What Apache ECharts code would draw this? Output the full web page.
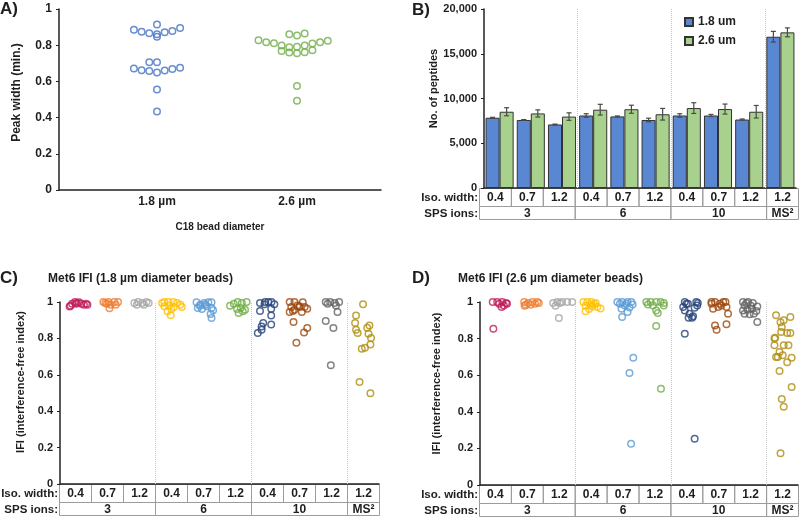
<!DOCTYPE html>
<html><head><meta charset="utf-8">
<script src="https://cdn.jsdelivr.net/npm/echarts@6/dist/echarts.min.js"></script>
<style>html,body{margin:0;padding:0;background:#fff}#c{width:800px;height:518px}</style>
</head><body><div id="c"></div>
<script>
// ---------- Panel A: peak width ----------
const beadSizes = ['1.8 µm', '2.6 µm'];
const peak18 = [0.886,0.875,0.866,0.915,0.860,0.846,0.871,0.879,0.895,0.671,0.662,0.658,0.706,0.706,0.649,0.660,0.669,0.676,0.555,0.434];
const peak18Jit = [-3,-2,-1,0,0,0,1,2,3,-3,-2,-1,-1,0,0,1,2,3,0,0];
const peak26 = [0.827,0.816,0.811,0.798,0.860,0.853,0.864,0.789,0.792,0.798,0.809,0.816,0.824,0.768,0.759,0.756,0.761,0.772,0.575,0.493];
const peak26Jit = [-5,-4,-3,-2,-1,0,1,-1,0,1,2,3,4,-2,-1,0,1,2,0,0];

// ---------- Panel B: number of peptides ----------
const isoWidths = ['0.4','0.7','1.2','0.4','0.7','1.2','0.4','0.7','1.2','1.2'];
const spsLabels = ['3','6','10','MS²'];
const spsSpans = [3,3,3,1];
const pep18 = [7850,7600,7100,8100,8000,7600,8100,8100,7650,16900];
const pep18Err = [50,40,40,200,50,200,200,120,60,600];
const pep26 = [8520,8330,7980,8750,8800,8240,8930,8820,8520,17390];
const pep26Err = [450,400,420,600,450,650,600,560,700,500];

// ---------- Panel C: IFI 1.8 um ----------
const ifi18 = [
 [0.975,0.98,0.99,1.0,0.99,0.995,0.998,0.99,0.985,0.99,0.985],
 [1.0,1.0,1.0,1.0,0.985,0.99,0.965,0.985,0.995],
 [0.995,1.0,0.995,1.0,0.995,0.985,0.985],
 [0.995,1.0,1.0,1.0,0.995,0.976,0.98,0.973,0.985,0.973,0.949,0.962,0.927],
 [0.998,0.985,0.995,0.998,0.998,0.967,0.962,0.976,0.967,0.954,0.934,0.912,0.985,0.98],
 [0.98,0.991,1.0,0.995,1.0,0.962,0.967,0.958,0.94,0.949],
 [0.994,1.0,1.0,1.0,0.987,0.987,0.95,0.963,0.926,0.885,0.866,0.848,0.83,0.877],
 [1.0,1.0,0.999,0.972,0.963,0.972,0.958,0.972,0.945,0.95,0.945,0.976,0.981,0.89,0.857,0.832,0.776],
 [1.0,1.0,0.995,1.0,0.99,0.981,0.945,0.896,0.857,0.652],
 [0.987,0.926,0.884,0.847,0.829,0.858,0.871,0.826,0.802,0.767,0.749,0.743,0.56,0.499]
];
const ifi18Jit = [
 [-0.2,-0.17,-0.12,-0.03,0.0,0.03,0.1,0.17,0.25,0.32,0.36],
 [-0.14,0.02,0.2,0.32,0.09,-0.03,0.05,0.25,-0.08],
 [-0.17,-0.05,0.08,0.21,0.28,-0.09,0.13],
 [-0.3,-0.23,-0.1,0.05,0.17,-0.23,-0.08,0.07,0.27,0.32,-0.13,-0.01,-0.03],
 [-0.22,-0.1,0.02,0.15,0.25,-0.18,-0.05,0.1,0.25,0.3,0.22,0.25,0.05,-0.12],
 [-0.17,-0.05,0.07,0.2,0.35,0.05,0.17,0.3,0.1,0.23],
 [-0.23,-0.07,0.03,0.13,0.22,-0.09,-0.23,0.12,0.12,-0.13,-0.18,-0.18,-0.3,0.12],
 [-0.3,-0.15,0.11,0.17,0.25,-0.25,-0.15,0.01,-0.3,-0.2,0.08,0.01,-0.06,-0.18,0.25,0.15,-0.09],
 [-0.17,-0.03,0.11,0.25,-0.11,0.15,0.2,-0.17,0.07,-0.01],
 [0,-0.22,-0.25,-0.22,-0.17,0.13,0.2,0.17,0.25,0.23,0.06,-0.04,-0.11,0.23]
];

// ---------- Panel D: IFI 2.6 um ----------
const ifi26 = [
 [1.0,1.0,1.0,0.994,0.972,0.981,0.99,0.99,0.854],
 [1.0,0.995,1.0,1.0,0.985,0.985,0.991,0.995,0.98],
 [0.995,1.0,1.0,1.0,1.0,0.98,0.995,0.912],
 [1.0,1.0,1.0,0.995,0.98,0.985,0.973,0.964,0.949,0.976,0.962,0.989],
 [1.0,1.0,1.0,1.0,0.99,0.981,0.963,0.987,0.945,0.918,0.696,0.612,0.226,0.99,0.97],
 [1.0,1.0,1.0,1.0,0.987,0.981,0.994,0.981,0.954,0.94,0.869,0.526],
 [1.0,1.0,0.972,0.99,0.981,0.969,0.954,0.936,0.914,0.914,0.922,0.827,0.253,0.994,0.99],
 [1.0,1.0,1.0,1.0,0.963,0.972,0.981,0.972,0.936,0.872,0.849,0.878,0.99,0.99],
 [1.0,1.0,0.995,0.981,0.981,0.976,0.954,0.958,0.963,0.951,0.936,0.933,0.936,0.891,0.995],
 [0.927,0.9,0.918,0.89,0.863,0.836,0.83,0.83,0.8,0.805,0.763,0.763,0.763,0.727,0.709,0.7,0.7,0.696,0.671,0.623,0.535,0.47,0.428,0.174]
];
const ifi26Jit = [
 [-0.1,0.04,0.2,0.32,0.18,0.25,0.1,0.35,-0.08],
 [-0.11,0.01,0.15,0.3,-0.06,0.09,0.23,0.35,-0.1],
 [-0.2,-0.07,0.08,0.24,0.4,-0.125,0.01,-0.02],
 [-0.25,-0.125,0,0.135,-0.18,-0.02,0.19,0.29,-0.18,0.03,-0.07,0.08],
 [-0.18,-0.03,0.14,0.26,-0.1,0.05,-0.05,0.3,0.14,-0.03,0.32,0.2,0.25,0.1,0.2],
 [-0.27,-0.135,0.04,0.18,-0.22,-0.06,0.28,0.28,0.04,0.09,0.04,0.19],
 [-0.06,0.3,-0.11,0.04,0.33,0.25,-0.06,0.09,0.17,0.06,0.2,-0.06,0.25,0.35,-0.01],
 [-0.22,-0.11,0.15,0.22,-0.17,-0.01,0.09,0.25,0.3,-0.11,-0.06,0.25,0.04,-0.22],
 [-0.23,-0.07,0.08,-0.18,0.01,0.22,-0.23,-0.09,0.05,0.19,-0.18,-0.02,0.11,0.22,-0.125],
 [-0.19,0.05,0.26,-0.05,-0.01,-0.03,0.16,0.26,-0.24,-0.22,-0.24,0.05,0.2,-0.08,0.02,-0.19,-0.135,0.3,0.16,-0.08,0.3,-0.01,0.05,-0.05]
];

// ---------- styles ----------
const FONT = '"Liberation Sans", Arial, sans-serif';
const TXT = '#1e1e1e';
const catColors = ['#BE1E5A','#ED7D31','#A5A5A5','#FFC000','#5B9BD5','#70AD47','#264478','#9E480E','#636363','#B08D10'];
const A_STEP = 0.055;

const chart = echarts.init(document.getElementById('c'), null, {renderer:'canvas'});

function yAx(gi, name, gap, pad, fmt, max, interval, fs){
  return {type:'value', gridIndex:gi, min:0, max:max, interval:interval,
    name:name, nameLocation:'middle', nameGap:gap,
    nameTextStyle:{fontFamily:FONT, fontWeight:'bold', fontSize:fs, color:TXT, padding:pad},
    axisLine:{show:true, onZero:false, lineStyle:{color:'#222', width:1.5}},
    axisTick:{show:true, length:3, lineStyle:{color:'#222'}},
    splitLine:{show:false},
    axisLabel:{fontFamily:FONT, fontWeight:'bold', fontSize:fs===11?11:12, color:TXT, margin:7, formatter:fmt}};
}
const numFmt = v => String(+v.toFixed(2));
const commaFmt = v => v === 0 ? '0' : v.toLocaleString('en-US');

const hiddenX = (gi, lineShow) => ({type:'value', gridIndex:gi, min:-0.5, max:9.5,
  axisLine:{show:lineShow, onZero:false, lineStyle:{color:'#222', width:1.5}},
  axisTick:{show:false}, axisLabel:{show:false}, splitLine:{show:false}});

const sepLine = {silent:true, symbol:'none', label:{show:false},
  lineStyle:{color:'#c8c8c8', type:'dotted', width:1},
  data:[{xAxis:2.5},{xAxis:5.5},{xAxis:8.5}]};

function scatterSeries(vals, jits, axisIdx){
  return vals.map((arr,k) => ({
    type:'scatter', xAxisIndex:axisIdx, yAxisIndex:axisIdx, symbol:'circle', symbolSize:6.5,
    itemStyle:{color:'rgba(0,0,0,0)', borderColor:catColors[k], borderWidth:1.5},
    data: arr.map((v,j) => [k + jits[k][j], v]),
    markLine: k === 0 ? sepLine : undefined, z:3
  }));
}

function errSeries(vals, errs, side){
  return {type:'custom', xAxisIndex:1, yAxisIndex:1, z:5,
    data: vals.map((v,i)=>[i, v, errs[i]]),
    renderItem:(params, api)=>{
      const i = api.value(0), v = api.value(1), e = api.value(2);
      const band = api.size([1,0])[0];
      const off = side * band * 0.225;
      const p1 = api.coord([i, v+e]), p2 = api.coord([i, v-e]);
      const x = p1[0] + off, cap = 2.5;
      const st = {stroke:'#4a4a4a', lineWidth:1.2};
      return {type:'group', children:[
        {type:'line', shape:{x1:x, y1:p1[1], x2:x, y2:p2[1]}, style:st},
        {type:'line', shape:{x1:x-cap, y1:p1[1], x2:x+cap, y2:p1[1]}, style:st},
        {type:'line', shape:{x1:x-cap, y1:p2[1], x2:x+cap, y2:p2[1]}, style:st}
      ]};
    }};
}

function tableEls(x0, w, y0, h1, h2){
  const els = [];
  const cw = w / isoWidths.length;
  const tf = 'bold 12px ' + FONT;
  const rf = 'bold 11.5px ' + FONT;
  isoWidths.forEach((t,i)=>{
    els.push({type:'rect', shape:{x:x0+i*cw, y:y0, width:cw, height:h1}, style:{fill:'none', stroke:'#9c9c9c', lineWidth:1}});
    els.push({type:'text', x:x0+(i+0.5)*cw, y:y0+h1/2+0.5, style:{text:t, align:'center', verticalAlign:'middle', font:tf, fill:TXT}});
  });
  let k = 0;
  spsLabels.forEach((t,g)=>{
    const span = spsSpans[g];
    els.push({type:'rect', shape:{x:x0+k*cw, y:y0+h1, width:span*cw, height:h2}, style:{fill:'none', stroke:'#9c9c9c', lineWidth:1}});
    els.push({type:'text', x:x0+(k+span/2)*cw, y:y0+h1+h2/2+0.5, style:{text:t, align:'center', verticalAlign:'middle', font:tf, fill:TXT}});
    k += span;
  });
  els.push({type:'text', x:x0-1.5, y:y0+h1/2+0.5, style:{text:'Iso. width:', align:'right', verticalAlign:'middle', font:rf, fill:TXT}});
  els.push({type:'text', x:x0-1.5, y:y0+h1+h2/2+0.5, style:{text:'SPS ions:', align:'right', verticalAlign:'middle', font:rf, fill:TXT}});
  return els;
}

const labelEl = (t, x, y, fs) => ({type:'text', x:x, y:y, style:{text:t, align:'left', verticalAlign:'middle', font:'bold '+fs+'px '+FONT, fill:TXT}});

const option = {
  animation:false,
  textStyle:{fontFamily:FONT},
  grid:[
    {left:59, top:9, width:322, height:181},
    {left:484, top:9, width:312, height:179},
    {left:60, top:302, width:319, height:182},
    {left:480, top:302, width:318, height:183}
  ],
  legend:{data:['1.8 um','2.6 um'], orient:'vertical', left:679, top:11, itemWidth:8, itemHeight:8, itemGap:7,
    icon:'rect', textStyle:{fontFamily:FONT, fontWeight:'bold', fontSize:12, color:TXT}},
  xAxis:[
    {type:'value', gridIndex:0, min:-0.7, max:1.6,
      name:'C18 bead diameter', nameLocation:'middle', nameGap:32,
      nameTextStyle:{fontFamily:FONT, fontWeight:'bold', fontSize:10, color:TXT},
      axisLine:{show:true, onZero:false, lineStyle:{color:'#222', width:1.5}}, axisTick:{show:false}, splitLine:{show:false},
      axisLabel:{customValues:[0,1], formatter:v=>beadSizes[Math.round(v)], fontFamily:FONT, fontWeight:'bold', fontSize:12, color:TXT, margin:6}},
    {type:'category', gridIndex:1, data:isoWidths, axisLine:{show:true, onZero:false, lineStyle:{color:'#222', width:1.5}}, axisTick:{show:false}, axisLabel:{show:false}},
    hiddenX(2, true),
    hiddenX(3, true),
    hiddenX(1, false)
  ],
  yAxis:[
    yAx(0, 'Peak width (min.)', 36, [0,0,0,14], numFmt, 1, 0.2, 12),
    yAx(1, 'No. of peptides', 44, [0,0,0,20], commaFmt, 20000, 5000, 11),
    yAx(2, 'IFI (interference-free index)', 34, [0,0,0,22], numFmt, 1, 0.2, 11),
    yAx(3, 'IFI (interference-free index)', 38, [0,0,0,20], numFmt, 1, 0.2, 11),
    {type:'value', gridIndex:1, min:0, max:1, show:false}
  ],
  series:[
    {type:'scatter', xAxisIndex:0, yAxisIndex:0, symbol:'circle', symbolSize:6.5,
      itemStyle:{color:'rgba(0,0,0,0)', borderColor:'#4472C4', borderWidth:1.5},
      data: peak18.map((v,i)=>[0 + peak18Jit[i]*A_STEP, v])},
    {type:'scatter', xAxisIndex:0, yAxisIndex:0, symbol:'circle', symbolSize:6.5,
      itemStyle:{color:'rgba(0,0,0,0)', borderColor:'#70AD47', borderWidth:1.5},
      data: peak26.map((v,i)=>[1 + peak26Jit[i]*A_STEP, v])},
    {name:'1.8 um', type:'bar', xAxisIndex:1, yAxisIndex:1, data:pep18, barGap:'0%', barCategoryGap:'10%',
      itemStyle:{color:'#5A87D2', borderColor:'#333', borderWidth:1}},
    {name:'2.6 um', type:'bar', xAxisIndex:1, yAxisIndex:1, data:pep26, barGap:'0%', barCategoryGap:'10%',
      itemStyle:{color:'#A9D18E', borderColor:'#333', borderWidth:1}},
    errSeries(pep18, pep18Err, -1),
    errSeries(pep26, pep26Err, 1),
    {type:'scatter', xAxisIndex:4, yAxisIndex:4, data:[], markLine:sepLine},
    ...scatterSeries(ifi18, ifi18Jit, 2),
    ...scatterSeries(ifi26, ifi26Jit, 3)
  ],
  graphic:[
    labelEl('A)', 0, 9, 17),
    labelEl('B)', 412, 10, 17),
    labelEl('C)', 0, 278, 17),
    labelEl('D)', 412, 278, 17),
    {type:'text', x:48, y:279, style:{text:'Met6 IFI (1.8 µm diameter beads)', align:'left', verticalAlign:'middle', font:'bold 12px '+FONT, fill:TXT}},
    {type:'text', x:458, y:279, style:{text:'Met6 IFI (2.6 µm diameter beads)', align:'left', verticalAlign:'middle', font:'bold 12px '+FONT, fill:TXT}},
    ...tableEls(479.5, 319, 188.5, 18, 13),
    ...tableEls(59.5, 320, 484.5, 18, 13),
    ...tableEls(479.5, 319, 485.5, 18, 13)
  ]
};
chart.setOption(option);
</script></body></html>
